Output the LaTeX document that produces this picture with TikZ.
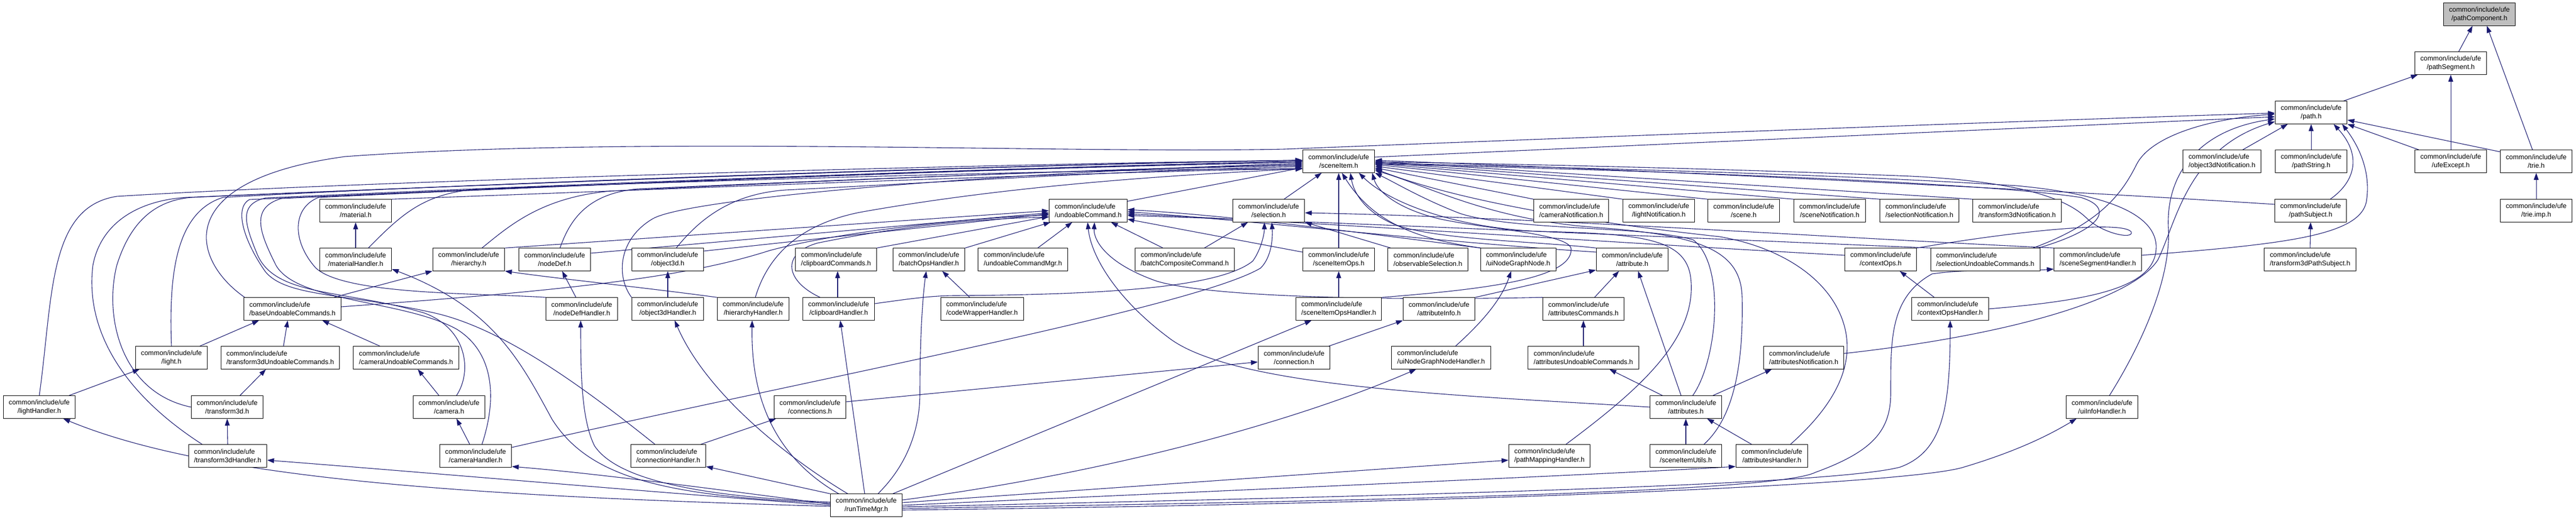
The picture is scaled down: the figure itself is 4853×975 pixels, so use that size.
\documentclass[tikz,border=0pt]{standalone}
\usepackage{fontspec}
\setsansfont{Liberation Sans}
\usetikzlibrary{arrows.meta,backgrounds}
\definecolor{edgeblue}{RGB}{25,25,112}
\tikzset{every picture/.style={
  >={Triangle[length=13pt,width=9pt]}   % Graphviz style arrows.
  }
}

\begin{document}
\begin{tikzpicture}[
      x=1pt, y=-1pt,
      file/.style={
        draw,
        fill=black!#1,
        line width=1pt,
        minimum height=42.5pt,
        inner xsep=10.5pt,
        align=center,
        font=\sffamily\fontsize{12.8}{16}\selectfont
      },
      file/.default=0,
      dep/.style={->, draw=edgeblue, line width=1.1pt}]

      \useasboundingbox (0,0) rectangle (4853,975);

      % Helper: two line label, first line left aligned.
      \def\hdr#1{\setbox0\hbox{/#1}\setbox1\hbox{common/include/ufe}%
        \ifdim\wd0>\wd1 \hbox to\wd0{\unhcopy1\hfil}\else\box1\fi\\/#1}

      % Draw the files, row by row.
      \node[file=25] (pcomp) at (4671,27) {\hdr{pathComponent.h}};
      \node[file] (pseg) at (4617,119) {\hdr{pathSegment.h}};
      \node[file] (path) at (4354,212) {\hdr{path.h}};

      \node[file] (sitem) at (2522,304) {\hdr{sceneItem.h}};
      \node[file] (o3dnotif) at (4186,304) {\hdr{object3dNotification.h}};
      \node[file] (pstr) at (4354,304) {\hdr{pathString.h}};
      \node[file] (uexc) at (4617,304) {\hdr{ufeExcept.h}};
      \node[file] (trie) at (4778,304) {\hdr{trie.h}};

      \node[file] (mat) at (670,397) {\hdr{material.h}};
      \node[file] (ucmd) at (2050,397) {\hdr{undoableCommand.h}};
      \node[file] (sel) at (2390,397) {\hdr{selection.h}};
      \node[file] (camnotif) at (2960,397) {\hdr{cameraNotification.h}};
      \node[file] (lightnotif) at (3125,397) {\hdr{lightNotification.h}};
      \node[file] (scene) at (3285,397) {\hdr{scene.h}};
      \node[file] (scnnotif) at (3447,397) {\hdr{sceneNotification.h}};
      \node[file] (selnotif) at (3616,397) {\hdr{selectionNotification.h}};
      \node[file] (xfnotif) at (3800,397) {\hdr{transform3dNotification.h}};
      \node[file] (psubj) at (4353,397) {\hdr{pathSubject.h}};
      \node[file] (trieimp) at (4778,397) {\hdr{trie.imp.h}};

      \node[file] (math) at (670,489) {\hdr{materialHandler.h}};
      \node[file] (hier) at (883,489) {\hdr{hierarchy.h}};
      \node[file] (ndef) at (1045,489) {\hdr{nodeDef.h}};
      \node[file] (o3d) at (1258,489) {\hdr{object3d.h}};
      \node[file] (clipcmd) at (1575,489) {\hdr{clipboardCommands.h}};
      \node[file] (batchh) at (1750,489) {\hdr{batchOpsHandler.h}};
      \node[file] (ucmdmgr) at (1927,489) {\hdr{undoableCommandMgr.h}};
      \node[file] (batchcmp) at (2232,489) {\hdr{batchCompositeCommand.h}};
      \node[file] (sitemops) at (2522,489) {\hdr{sceneItemOps.h}};
      \node[file] (obssel) at (2690,489) {\hdr{observableSelection.h}};
      \node[file] (uing) at (2860,489) {\hdr{uiNodeGraphNode.h}};
      \node[file] (attr) at (3075,489) {\hdr{attribute.h}};
      \node[file] (ctxops) at (3543,489) {\hdr{contextOps.h}};
      \node[file] (selucmd) at (3740,489) {\hdr{selectionUndoableCommands.h}};
      \node[file] (segh) at (3952,489) {\hdr{sceneSegmentHandler.h}};
      \node[file] (xfpsubj) at (4352,489) {\hdr{transform3dPathSubject.h}};

      \node[file] (baseucmd) at (551,582) {\hdr{baseUndoableCommands.h}};
      \node[file] (ndefh) at (1096,582) {\hdr{nodeDefHandler.h}};
      \node[file] (o3dh) at (1258,582) {\hdr{object3dHandler.h}};
      \node[file] (hierh) at (1419,582) {\hdr{hierarchyHandler.h}};
      \node[file] (cliph) at (1580,582) {\hdr{clipboardHandler.h}};
      \node[file] (codeh) at (1850,582) {\hdr{codeWrapperHandler.h}};
      \node[file] (sitemopsh) at (2522,582) {\hdr{sceneItemOpsHandler.h}};
      \node[file] (attrinfo) at (2711,582) {\hdr{attributeInfo.h}};
      \node[file] (attrscmd) at (2983,582) {\hdr{attributesCommands.h}};
      \node[file] (ctxopsh) at (3674,582) {\hdr{contextOpsHandler.h}};

      \node[file] (light) at (323,674) {\hdr{light.h}};
      \node[file] (xfucmd) at (528,674) {\hdr{transform3dUndoableCommands.h}};
      \node[file] (camucmd) at (765,674) {\hdr{cameraUndoableCommands.h}};
      \node[file] (conn) at (2438,674) {\hdr{connection.h}};
      \node[file] (uingh) at (2715,674) {\hdr{uiNodeGraphNodeHandler.h}};
      \node[file] (attrsucmd) at (2983,674) {\hdr{attributesUndoableCommands.h}};
      \node[file] (attrsnotif) at (3398,674) {\hdr{attributesNotification.h}};

      \node[file] (lighth) at (74,767) {\hdr{lightHandler.h}};
      \node[file] (xf) at (428,767) {\hdr{transform3d.h}};
      \node[file] (cam) at (846,767) {\hdr{camera.h}};
      \node[file] (conns) at (1526,767) {\hdr{connections.h}};
      \node[file] (attrs) at (3176,767) {\hdr{attributes.h}};
      \node[file] (uiinfoh) at (3960,767) {\hdr{uiInfoHandler.h}};

      \node[file] (xfh) at (429,859) {\hdr{transform3dHandler.h}};
      \node[file] (camh) at (896,859) {\hdr{cameraHandler.h}};
      \node[file] (connh) at (1259,859) {\hdr{connectionHandler.h}};
      \node[file] (pmaph) at (2919,859) {\hdr{pathMappingHandler.h}};
      \node[file] (sitemutils) at (3176,859) {\hdr{sceneItemUtils.h}};
      \node[file] (attrsh) at (3338,859) {\hdr{attributesHandler.h}};

      \node[file] (rtm) at (1632,952) {\hdr{runTimeMgr.h}};

      % Helper for straight edges.
      \def\ed#1#2{\draw[dep] (#1) -- (#2);}

      \begin{pgfonlayer}{background}
      % Draw the top of the graph.
      \ed{[xshift=15pt]pseg.north}{[xshift=-13pt]pcomp.south}
      \ed{[xshift=-7pt]trie.north}{[xshift=14pt]pcomp.south}
      \ed{[xshift=61pt]path.north}{[xshift=-62pt]pseg.south}
      \ed{uexc.north}{pseg.south}
      \ed{[xshift=-60pt]uexc.north}{path.south east}
      \ed{[yshift=18pt]trie.west}{[yshift=-14pt]path.east}
      \ed{trieimp.north}{trie.south}
      \ed{[xshift=39pt]o3dnotif.north}{[xshift=-44pt]path.south}
      \ed{pstr.north}{path.south}
      \ed{xfpsubj.north}{psubj.south}
      \draw[dep] ([xshift=37pt]psubj.north) .. controls (4440,340) and (4448,290) .. ([xshift=-26pt]path.south east);
      \draw[dep] ([yshift=8pt]segh.east) .. controls (4300,460) and (4445,445) .. (4458,380) .. controls (4468,320) and (4440,270) .. ([xshift=-10pt]path.south east);

      % Draw the edges into path.h from the left.
      \ed{[yshift=8pt]sitem.east}{[yshift=-8pt]path.west}
      \draw[dep] ([xshift=-90pt]baseucmd.north) .. controls (360,490) and (320,340) .. (650,295) .. controls (1200,255) and (2000,290) .. (2420,281) .. controls (2900,262) and (3800,228) .. ([yshift=-1pt]path.west);
      \draw[dep] ([xshift=90pt]selucmd.north) .. controls (3960,420) and (4000,360) .. (4025,310) .. controls (4050,260) and (4150,225) .. ([yshift=-3pt]path.west);
      \draw[dep] ([xshift=14pt]uiinfoh.north) .. controls (4040,640) and (4090,520) .. (4085,430) .. controls (4080,330) and (4140,245) .. ([yshift=-12pt]path.west);
      \draw[dep] ([yshift=8pt]attrsnotif.east) .. controls (3800,630) and (4020,560) .. (4065,490) .. controls (4100,420) and (4120,280) .. ([yshift=-17pt]path.west);

      % Draw the edges into sceneItem.h from the right.
      \ed{camnotif.north west}{[yshift=-12pt]sitem.east}
      \ed{lightnotif.north west}{[yshift=-9pt]sitem.east}
      \ed{scene.north west}{[yshift=-6pt]sitem.east}
      \ed{scnnotif.north west}{[yshift=-4pt]sitem.east}
      \ed{selnotif.north west}{[yshift=-2pt]sitem.east}
      \ed{xfnotif.north west}{sitem.east}
      \draw[dep] ([yshift=12pt]psubj.west) .. controls (3900,360) and (3200,325) .. ([yshift=2pt]sitem.east);
      \draw[dep] (ctxops.north east) .. controls (3800,435) and (4000,415) .. (4015,437) .. controls (4020,452) and (3960,440) .. (3930,410) .. controls (3890,372) and (3800,342) .. (3600,332) .. controls (3200,316) and (2800,308) .. ([yshift=-1pt]sitem.east);
      \draw[dep] (ctxopsh.east) .. controls (3950,565) and (4065,540) .. (4062,462) .. controls (4058,400) and (3960,365) .. (3800,350) .. controls (3400,325) and (2900,315) .. ([yshift=-3pt]sitem.east);
      \draw[dep] ([xshift=100pt]selucmd.north) .. controls (3960,432) and (3985,392) .. (3920,372) .. controls (3700,338) and (2900,316) .. ([yshift=-5pt]sitem.east);
      \draw[dep] ([xshift=13pt]attrs.north) .. controls (3235,680) and (3252,500) .. (3190,452) .. controls (3100,425) and (2850,435) .. (2750,402) .. controls (2680,375) and (2630,345) .. (sitem.south east);
      \draw[dep] ([xshift=34pt]sitemutils.north) .. controls (3262,790) and (3285,700) .. (3282,560) .. controls (3280,470) and (3200,442) .. (3000,428) .. controls (2800,412) and (2690,350) .. ([yshift=-17pt]sitem.east);
      \draw[dep] ([xshift=35pt]attrsh.north) .. controls (3460,760) and (3500,680) .. (3470,600) .. controls (3440,520) and (3350,465) .. (3240,446) .. controls (3000,420) and (2750,380) .. ([yshift=-14pt]sitem.east);
      \draw[dep] ([xshift=31pt]pmaph.north) .. controls (3080,740) and (3200,640) .. (3185,522) .. controls (3175,452) and (3100,440) .. (2900,436) .. controls (2750,430) and (2620,385) .. ([xshift=38pt]sitem.south);
      \draw[dep] (attr.north west) .. controls (2900,455) and (2700,452) .. (2625,422) .. controls (2570,398) and (2550,362) .. ([xshift=22pt]sitem.south);
      \draw[dep] ([xshift=-70pt]uing.north) .. controls (2680,452) and (2590,425) .. ([xshift=6pt]sitem.south);
      \draw[dep] (sitemopsh.north east) .. controls (2800,545) and (2960,525) .. (2960,470) .. controls (2960,440) and (2800,432) .. (2710,412) .. controls (2630,392) and (2595,360) .. ([xshift=63pt]sitem.south);

      % Draw the middle rows.
      \ed{sitemops.north}{sitem.south}
      \ed{sitemopsh.north}{sitemops.south}
      \ed{[xshift=29pt]sel.north}{[xshift=-32pt]sitem.south}
      \ed{[yshift=-4pt]ucmd.north east}{[yshift=-12pt]sitem.west}
      \ed{[yshift=14pt]sitemops.west}{[yshift=-16pt]ucmd.east}
      \ed{[xshift=-70pt]obssel.north}{sel.south east}
      \ed{[xshift=-41pt]batchcmp.north}{[xshift=43pt]ucmd.south}
      \ed{[xshift=37pt]batchcmp.north}{[xshift=-39pt]sel.south}
      \ed{[xshift=28pt]ucmdmgr.north}{[xshift=-30pt]ucmd.south}
      \ed{batchh.north east}{[xshift=3pt]ucmd.south west}
      \ed{[xshift=-23pt]codeh.north}{[xshift=25pt]batchh.south}
      \ed{clipcmd.north east}{[yshift=-11pt]ucmd.west}
      \ed{hier.north east}{ucmd.west}
      \ed{[yshift=12pt]ndef.east}{[yshift=-4pt]ucmd.west}
      \ed{[yshift=16pt]o3d.east}{[yshift=-6pt]ucmd.west}
      \draw[dep] ([yshift=4pt]baseucmd.east) .. controls (1100,545) and (1300,520) .. (1450,472) .. controls (1600,432) and (1850,410) .. ([yshift=-8pt]ucmd.west);
      \draw[dep] ([xshift=-35pt]cliph.north) .. controls (1480,530) and (1470,478) .. (1540,458) .. controls (1700,425) and (1850,412) .. ([yshift=-12pt]ucmd.west);
      \draw[dep] (uing.north west) .. controls (2500,430) and (2300,405) .. ([yshift=2pt]ucmd.east);
      \draw[dep] ([yshift=14pt]attr.west) .. controls (2700,455) and (2350,415) .. ([yshift=-2pt]ucmd.east);
      \draw[dep] ([yshift=8pt]ctxops.west) .. controls (3000,455) and (2500,420) .. ([yshift=-6pt]ucmd.east);
      \draw[dep] (selucmd.north west) .. controls (3100,445) and (2500,418) .. ([yshift=-9pt]ucmd.east);
      \draw[dep] (segh.north west) .. controls (3400,445) and (2900,410) .. ([yshift=-4pt]sel.east);
      \draw[dep] (attrscmd.north west) .. controls (2700,565) and (2300,565) .. (2180,530) .. controls (2080,495) and (2060,450) .. ([xshift=12pt]ucmd.south);
      \draw[dep] (attrs.west) .. controls (2750,745) and (2320,730) .. (2200,635) .. controls (2100,560) and (2055,480) .. ([xshift=-1pt]ucmd.south);
      \draw[dep] ([yshift=10pt]cliph.east) .. controls (1700,565) and (1750,557) .. (1800,557) .. controls (2100,555) and (2300,540) .. (2360,492) .. controls (2376,470) and (2382,440) .. ([xshift=-8pt]sel.south);
      \draw[dep] ([yshift=16pt]camh.east) .. controls (1500,720) and (2250,580) .. (2375,505) .. controls (2395,485) and (2398,450) .. ([xshift=6pt]sel.south);

      % Draw the edges into sceneItem.h from the left.
      \draw[dep] (mat.north east) .. controls (1300,355) and (2100,322) .. ([yshift=-14pt]sitem.west);
      \draw[dep] ([xshift=24pt]math.north) .. controls (760,400) and (800,365) .. (900,356) .. controls (1500,335) and (2100,318) .. ([yshift=-14pt]sitem.west);
      \draw[dep] (light.north) .. controls (318,520) and (330,400) .. (420,372) .. controls (900,345) and (1900,310) .. ([yshift=2pt]sitem.west);
      \draw[dep] (lighth.north) .. controls (100,560) and (90,390) .. (220,370) .. controls (700,340) and (1900,308) .. ([yshift=2pt]sitem.west);
      \draw[dep] (xf.west) .. controls (230,740) and (195,600) .. (220,500) .. controls (245,420) and (290,378) .. (360,372) .. controls (900,348) and (1900,310) .. ([yshift=2pt]sitem.west);
      \draw[dep] ([xshift=-48pt]xfh.north) .. controls (230,740) and (160,620) .. (175,500) .. controls (190,420) and (260,378) .. (350,372) .. controls (900,348) and (1900,310) .. ([yshift=2pt]sitem.west);
      \draw[dep] ([xshift=14pt]cam.north) .. controls (890,700) and (880,620) .. (800,590) .. controls (650,545) and (520,560) .. (485,480) .. controls (460,420) and (450,385) .. (500,373) .. controls (1000,350) and (1900,315) .. (sitem.west);
      \draw[dep] ([xshift=12pt]camh.north) .. controls (940,740) and (925,660) .. (860,620) .. controls (760,565) and (560,570) .. (520,500) .. controls (490,440) and (470,392) .. (530,374) .. controls (1000,352) and (1900,316) .. (sitem.west);
      \draw[dep] ([xshift=-25pt]connh.north) .. controls (1100,730) and (950,620) .. (820,590) .. controls (650,552) and (540,560) .. (500,512) .. controls (460,455) and (440,392) .. (470,376) .. controls (1000,352) and (1900,316) .. (sitem.west);
      \draw[dep] (ndefh.north west) .. controls (900,552) and (650,556) .. (595,505) .. controls (550,455) and (550,392) .. (600,372) .. controls (1100,348) and (1900,316) .. ([yshift=-2pt]sitem.west);
      \draw[dep] (o3dh.north west) .. controls (1160,520) and (1165,450) .. (1230,412) .. controls (1300,372) and (1900,324) .. ([yshift=-4pt]sitem.west);
      \draw[dep] ([xshift=25pt]hier.north) .. controls (960,425) and (1020,372) .. (1150,360) .. controls (1600,338) and (2100,318) .. ([yshift=-6pt]sitem.west);
      \draw[dep] ([xshift=10pt]ndef.north) .. controls (1075,410) and (1110,365) .. (1200,356) .. controls (1600,338) and (2100,318) .. ([yshift=-8pt]sitem.west);
      \draw[dep] ([xshift=16pt]o3d.north) .. controls (1320,410) and (1380,365) .. (1480,358) .. controls (1800,342) and (2100,322) .. ([yshift=-10pt]sitem.west);
      \draw[dep] ([xshift=4pt]hierh.north) .. controls (1450,470) and (1520,420) .. (1620,400) .. controls (1900,350) and (2200,330) .. ([yshift=-14pt]sitem.west);

      % Draw the lower left part.
      \ed{math.north}{mat.south}
      \ed{[xshift=-15pt]light.north east}{[xshift=-63pt]baseucmd.south}
      \ed{[xshift=6pt]xfucmd.north}{[xshift=-9pt]baseucmd.south}
      \ed{[xshift=-49pt]camucmd.north}{[xshift=56pt]baseucmd.south}
      \ed{[xshift=56pt]lighth.north}{[xshift=-60pt]light.south}
      \ed{[xshift=24pt]xf.north}{[xshift=-27pt]xfucmd.south}
      \ed{xfh.north}{xf.south}
      \ed{[xshift=-19pt]cam.north}{[xshift=22pt]camucmd.south}
      \ed{[xshift=-11pt]camh.north}{[xshift=14pt]cam.south}
      \ed{[xshift=-11pt]ndefh.north}{[xshift=14pt]ndef.south}
      \ed{o3dh.north}{o3d.south}
      \draw[dep] (hierh.north west) .. controls (1200,540) and (1050,525) .. (hier.south east);
      \ed{[xshift=-2pt]cliph.north}{[xshift=3pt]clipcmd.south}
      \ed{[xshift=61pt]connh.north}{[xshift=-64pt]conns.south}
      \ed{[yshift=10pt]conns.east}{[yshift=-8pt]conn.west}
      \ed{[xshift=78pt]baseucmd.north}{hier.south west}
      \ed{[xshift=65pt]conn.north}{[xshift=-68pt]attrinfo.south}

      % Draw the attribute files.
      \ed{attrinfo.north east}{[yshift=2pt]attr.south west}
      \ed{[xshift=21pt]attrscmd.north}{[xshift=-25pt]attr.south}
      \ed{attrsucmd.north}{attrscmd.south}
      \ed{[xshift=-44pt]attrs.north}{[xshift=49pt]attrsucmd.south}
      \ed{[xshift=-9pt]attrs.north}{[xshift=11pt]attr.south}
      \ed{[xshift=51pt]attrs.north}{[xshift=-60pt]attrsnotif.south}
      \ed{sitemutils.north}{attrs.south}
      \ed{[xshift=-38pt]attrsh.north}{[xshift=40pt]attrs.south}
      \draw[dep] ([xshift=27pt]uingh.north) .. controls (2800,600) and (2830,560) .. ([xshift=-13pt]uing.south);
      \ed{[xshift=-30pt]ctxopsh.north}{[xshift=36pt]ctxops.south}

      % Draw the edges of runTimeMgr.h.
      \draw[dep] ([yshift=-2pt]rtm.west) .. controls (900,935) and (400,905) .. ([xshift=45pt]lighth.south);
      \draw[dep] (rtm.west) .. controls (1200,925) and (800,890) .. ([yshift=-8pt]xfh.east);
      \draw[dep] ([yshift=2pt]rtm.west) .. controls (1300,915) and (1100,890) .. ([yshift=-20pt]camh.east);
      \ed{rtm.north west}{[yshift=-20pt]connh.east}
      \draw[dep] ([yshift=6pt]rtm.west) .. controls (1300,935) and (1160,900) .. (1120,840) .. controls (1095,790) and (1094,700) .. ([xshift=-2pt]ndefh.south);
      \draw[dep] ([xshift=-35pt]rtm.north) .. controls (1480,860) and (1330,740) .. ([xshift=13pt]o3dh.south);
      \draw[dep] ([xshift=-52pt]rtm.north) .. controls (1440,850) and (1415,720) .. ([xshift=-2pt]hierh.south);
      \ed{[xshift=-3pt]rtm.north}{[xshift=3pt]cliph.south}
      \draw[dep] ([yshift=4pt]rtm.west) .. controls (1250,935) and (1110,900) .. (1040,790) .. controls (980,680) and (930,580) .. ([yshift=-18pt]math.east);
      \draw[dep] ([xshift=22pt]rtm.north) .. controls (1715,870) and (1733,800) .. (1733,740) .. controls (1733,640) and (1738,560) .. ([xshift=-5pt]batchh.south);
      \ed{[xshift=50pt]rtm.north}{[xshift=-51pt]sitemopsh.south}
      \draw[dep] ([yshift=10pt]rtm.east) .. controls (2100,890) and (2450,790) .. ([xshift=-47pt]uingh.south);
      \ed{[yshift=5pt]rtm.east}{[yshift=-8pt]pmaph.west}
      \draw[dep] (rtm.east) .. controls (2400,920) and (3000,895) .. ([yshift=-20pt]attrsh.west);
      \draw[dep] ([yshift=-3pt]rtm.east) .. controls (2600,935) and (3450,915) .. (3580,880) .. controls (3660,850) and (3674,770) .. (ctxopsh.south);
      \draw[dep] ([yshift=-6pt]rtm.east) .. controls (2700,942) and (3350,925) .. (3420,890) .. controls (3530,850) and (3562,810) .. (3562,740) .. controls (3562,640) and (3560,560) .. (3640,516) .. controls (3720,505) and (3800,512) .. ([yshift=-18pt]segh.west);
      \draw[dep] ([yshift=-9pt]rtm.east) .. controls (2800,948) and (3600,912) .. (3700,880) .. controls (3800,850) and (3860,820) .. ([xshift=-48pt]uiinfoh.south);
      \end{pgfonlayer}

    \end{tikzpicture}
\end{document}
